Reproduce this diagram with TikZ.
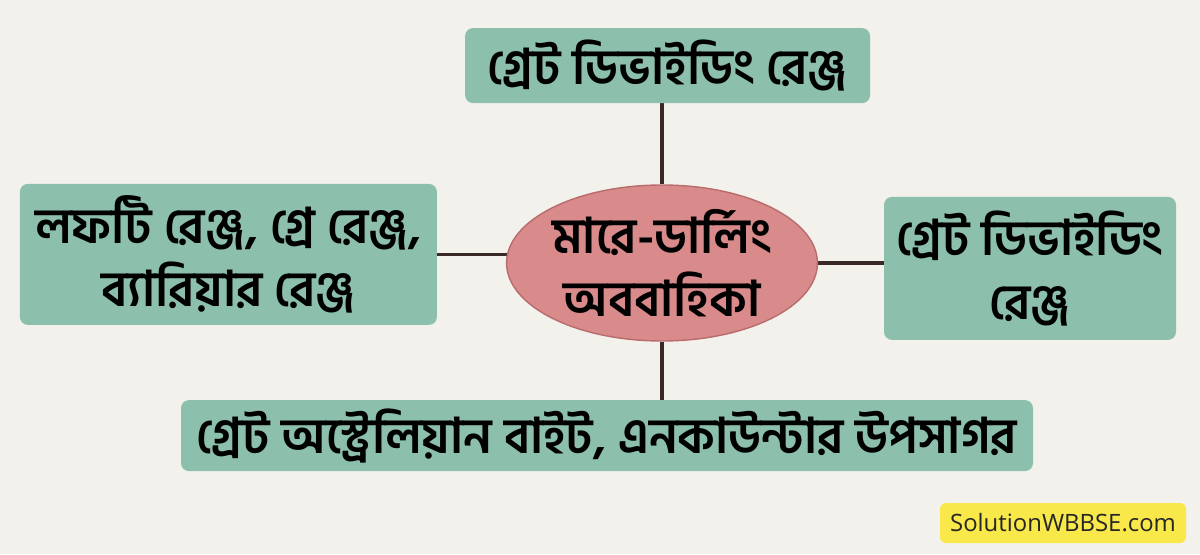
\documentclass[tikz,border=0pt]{standalone}
\usepackage{fontspec}
\newfontfamily\bnfont[Script=Bengali]{Hind Siliguri}
\newfontfamily\wmfont{Open Sans}
\usetikzlibrary{shapes.geometric,backgrounds}
\definecolor{paper}{HTML}{F2F1EC}
\definecolor{boxgreen}{HTML}{8DC0AC}
\definecolor{ovalred}{HTML}{D98A8A}
\definecolor{ovalline}{HTML}{B86C6C}
\definecolor{linkbrown}{HTML}{3A2826}
\definecolor{tagyellow}{HTML}{F8E84A}
\begin{document}
\begin{tikzpicture}[
    rangebox/.style={fill=boxgreen, rounded corners=.2cm, align=center, inner sep=0pt,
        font=\bnfont\bfseries\fontsize{35}{45}\selectfont, text=black},
    basin/.style={ellipse, fill=ovalred, draw=ovalline, line width=1pt, align=center,
        inner sep=0pt, minimum width=7.5cm, minimum height=3.9cm,
        font=\bnfont\bfseries\fontsize{35}{45}\selectfont},
    link/.style={draw=linkbrown, line width=2.2pt}]
\useasboundingbox (0,0) rectangle (30,13.85);

\node[basin] (mid) at (16.55,7.275) {মারে-ডার্লিং\\অববাহিকা};
\node[rangebox, minimum width=10.125cm, minimum height=1.875cm] (top) at (16.69,12.21) {গ্রেট ডিভাইডিং রেঞ্জ};
\node[rangebox, minimum width=10.425cm, minimum height=3.525cm] (left) at (5.71,7.49) {লফটি রেঞ্জ, গ্রে রেঞ্জ,\\ব্যারিয়ার রেঞ্জ};
\node[rangebox, minimum width=7.3cm, minimum height=3.575cm] (right) at (25.75,7.14) {গ্রেট ডিভাইডিং\\রেঞ্জ};
\node[rangebox, minimum width=21.3cm, minimum height=1.775cm] (bottom) at (15.175,2.96) {গ্রেট অস্ট্রেলিয়ান বাইট, এনকাউন্টার উপসাগর};

\node[fill=tagyellow, rounded corners=.15cm, minimum width=6.15cm, minimum height=1cm,
    font=\wmfont\fontsize{17}{20}\selectfont, text=black!85] (tag) at (26.575,.775) {SolutionWBBSE.com};

\begin{scope}[on background layer]
\fill[paper] (0,0) rectangle (30,13.85);
\draw[link] (mid) -- (mid |- top);
\draw[link] (mid) -- (mid |- bottom);
\draw[link] (left) -- (left -| mid);
\draw[link] (mid) -- (mid -| right);
\end{scope}
\end{tikzpicture}
\end{document}
